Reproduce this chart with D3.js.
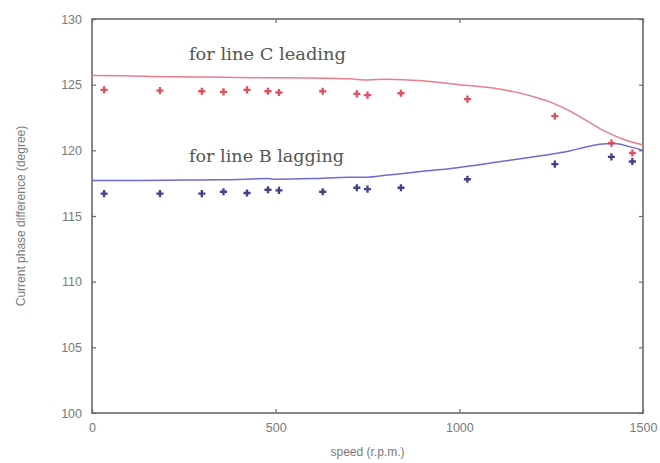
<!DOCTYPE html>
<html>
<head>
<meta charset="utf-8">
<script src="https://cdn.jsdelivr.net/npm/d3@7"></script>
<style>
  html, body { margin: 0; padding: 0; background: #fff; }
  svg { display: block; }
</style>
</head>
<body>
<svg id="chart" width="660" height="463"></svg>
<script>
// ---- data ----
const xTicks = [0, 500, 1000, 1500];
const yTicks = [100, 105, 110, 115, 120, 125, 130];

const speeds = [33, 185, 299, 358, 422, 479, 509, 628, 721, 750, 841, 1022, 1260, 1414, 1471];
const measuredC = [124.6, 124.55, 124.5, 124.45, 124.6, 124.5, 124.4, 124.5, 124.3, 124.2, 124.35, 123.9, 122.6, 120.55, 119.8];
const measuredB = [116.7, 116.7, 116.7, 116.85, 116.75, 117.0, 116.95, 116.85, 117.15, 117.05, 117.15, 117.8, 118.95, 119.5, 119.15];

const simSpeedC = [0, 90, 200, 300, 400, 500, 600, 700, 750, 800, 900, 1000, 1100, 1150, 1200, 1250, 1300, 1350, 1400, 1450, 1500];
const simC = [125.7, 125.68, 125.6, 125.58, 125.55, 125.52, 125.5, 125.45, 125.35, 125.42, 125.3, 125.0, 124.7, 124.45, 124.1, 123.65, 123.0, 122.2, 121.4, 120.8, 120.4];

const simSpeedB = [0, 100, 200, 300, 400, 480, 500, 600, 700, 750, 800, 900, 1000, 1100, 1200, 1300, 1350, 1400, 1430, 1460, 1500];
const simB = [117.7, 117.7, 117.72, 117.75, 117.78, 117.85, 117.8, 117.85, 117.95, 117.95, 118.1, 118.4, 118.7, 119.1, 119.5, 119.95, 120.3, 120.5, 120.5, 120.3, 120.0];

const labelC = "for line C leading";
const labelB = "for line B lagging";
const xTitle = "speed (r.p.m.)";
const yTitle = "Current phase difference (degree)";

// ---- layout ----
const svg = d3.select("#chart");
const L = 92, R = 643, T = 19, B = 413;
const x = d3.scaleLinear().domain([0, 1500]).range([L, R]);
const y = d3.scaleLinear().domain([100, 130]).range([B, T]);

const axisColor = "#6a6a6a";
const textColor = "#7a7a7a";

// frame
svg.append("rect")
  .attr("x", L).attr("y", T).attr("width", R - L).attr("height", B - T)
  .attr("fill", "none").attr("stroke", axisColor).attr("stroke-width", 1.6);

// axes (inward ticks)
const styleAxis = g => {
  g.select(".domain").remove();
  g.selectAll(".tick line").attr("stroke", axisColor).attr("stroke-width", 1.2);
  g.selectAll(".tick text").attr("fill", textColor)
    .attr("font-family", "Liberation Sans, Arial, sans-serif").attr("font-size", 12.5);
};
svg.append("g").attr("transform", `translate(0,${B})`)
  .call(d3.axisBottom(x).tickValues(xTicks).tickSize(-4).tickPadding(10).tickFormat(d3.format("d")))
  .call(styleAxis);
svg.append("g").attr("transform", `translate(0,${T})`)
  .call(d3.axisTop(x).tickValues(xTicks).tickSize(-4).tickFormat(""))
  .call(styleAxis);
svg.append("g").attr("transform", `translate(${L},0)`)
  .call(d3.axisLeft(y).tickValues(yTicks).tickSize(-4).tickPadding(10).tickFormat(d3.format("d")))
  .call(styleAxis);
svg.append("g").attr("transform", `translate(${R},0)`)
  .call(d3.axisRight(y).tickValues(yTicks).tickSize(-4).tickFormat(""))
  .call(styleAxis);

// titles
svg.append("text").attr("x", (L + R) / 2).attr("y", 456)
  .attr("text-anchor", "middle").attr("fill", textColor)
  .attr("font-family", "Liberation Sans, Arial, sans-serif").attr("font-size", 12)
  .text(xTitle);
svg.append("text").attr("transform", `translate(25,${(T + B) / 2}) rotate(-90)`)
  .attr("text-anchor", "middle").attr("fill", textColor)
  .attr("font-family", "Liberation Sans, Arial, sans-serif").attr("font-size", 12)
  .text(yTitle);

// simulated lines
const line = d3.line().x(d => x(d[0])).y(d => y(d[1])).curve(d3.curveMonotoneX);
svg.append("path").datum(simSpeedC.map((s, i) => [s, simC[i]]))
  .attr("d", line).attr("fill", "none").attr("stroke", "#ea7d8c").attr("stroke-width", 1.5);
svg.append("path").datum(simSpeedB.map((s, i) => [s, simB[i]]))
  .attr("d", line).attr("fill", "none").attr("stroke", "#6c6cd0").attr("stroke-width", 1.5);

// measured markers (+)
const plus = d3.symbol().type(d3.symbolCross).size(28);
function drawMarkers(vals, color) {
  svg.append("g").selectAll("path").data(speeds.map((s, i) => [s, vals[i]]))
    .join("path")
    .attr("d", plus)
    .attr("transform", d => `translate(${x(d[0])},${y(d[1])})`)
    .attr("fill", color).attr("opacity", 0.9);
}
drawMarkers(measuredC, "#d8404e");
drawMarkers(measuredB, "#2e2e80");

// annotations
svg.append("text").attr("x", 189).attr("y", 60)
  .attr("fill", "#555").attr("font-family", "DejaVu Serif, serif").attr("font-size", 16)
  .attr("textLength", 157).attr("lengthAdjust", "spacingAndGlyphs")
  .text(labelC);
svg.append("text").attr("x", 189).attr("y", 162)
  .attr("fill", "#555").attr("font-family", "DejaVu Serif, serif").attr("font-size", 16)
  .attr("textLength", 155).attr("lengthAdjust", "spacingAndGlyphs")
  .text(labelB);
</script>
</body>
</html>
